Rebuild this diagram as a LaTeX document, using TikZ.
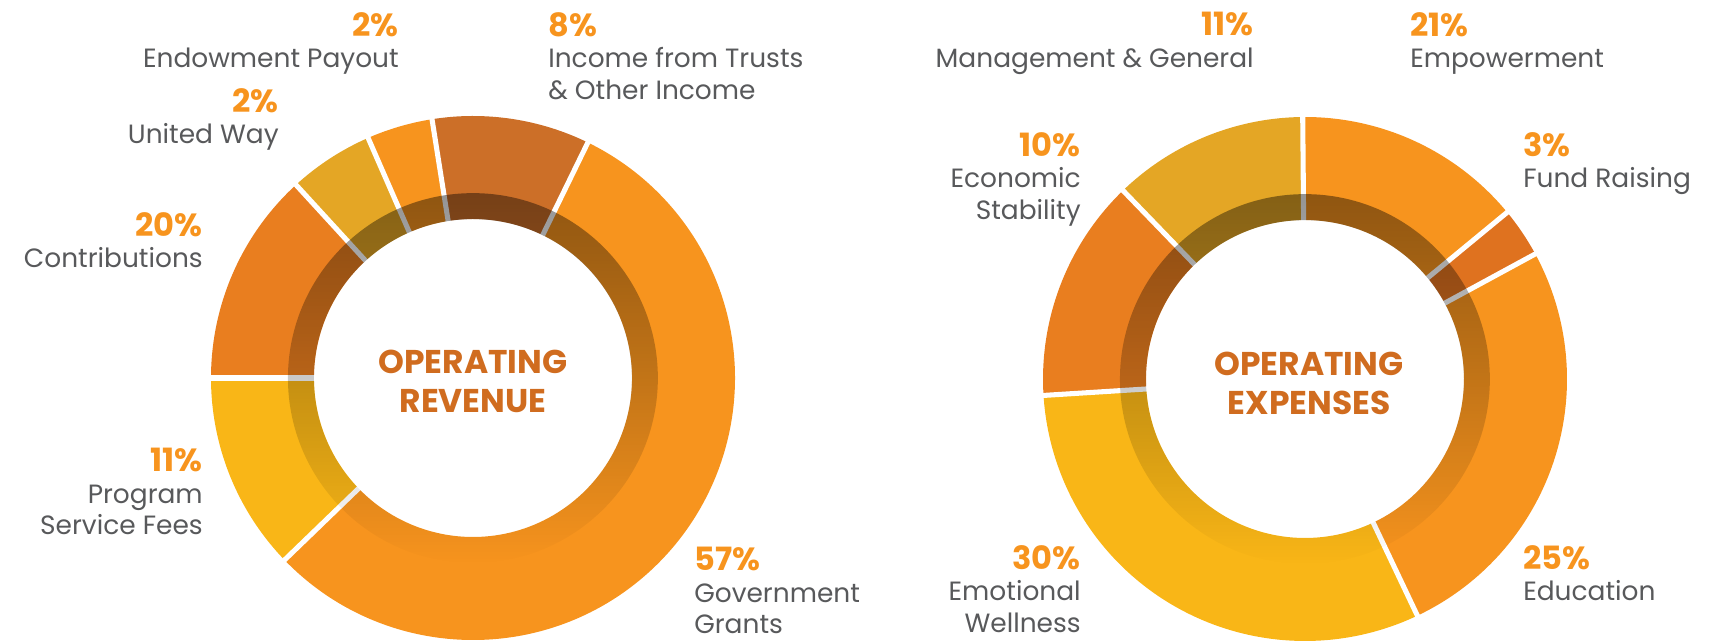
\documentclass[tikz,border=0pt]{standalone}
\usepackage{fontspec}
\setmainfont{Poppins}
\usetikzlibrary{fadings}

\definecolor{pctorange}{HTML}{F7941E}
\definecolor{labelgray}{HTML}{58595B}
\definecolor{titleorange}{HTML}{D06C1F}
\definecolor{segorange}{HTML}{F7941E}
\definecolor{segrust}{HTML}{CC6F28}
\definecolor{seggold}{HTML}{E4A625}
\definecolor{segdeep}{HTML}{E97E1F}
\definecolor{segyellow}{HTML}{F9B617}
\definecolor{segdark}{HTML}{DF721F}

\tikzfading[name=ringshade, top color=transparent!58, bottom color=transparent!100]

\newcommand{\pctnum}[1]{{\fontsize{22.8}{22.4}\selectfont\bfseries\color{pctorange}#1}}

\tikzset{
  leftlbl/.style={anchor=north east, align=right, inner sep=0pt, text=labelgray,
    font=\fontsize{18.8}{22.4}\selectfont},
  rightlbl/.style={anchor=north west, align=left, inner sep=0pt, text=labelgray,
    font=\fontsize{18.8}{22.4}\selectfont},
  titletext/.style={align=center, inner sep=0pt, text=titleorange,
    font=\fontsize{23.4}{27.7}\selectfont\bfseries},
  gapline/.style={white, line width=3.6pt},
}

\begin{document}
\begin{tikzpicture}[x=0.025cm, y=0.025cm]
	\useasboundingbox (0,0) rectangle (1722,643);
	% operating revenue
	\begin{scope}[shift={(473,265)}]
		\fill[segorange] (224:159) -- (224:262) arc[start angle=224, end angle=424, radius=262] -- (424:159) arc[start angle=424, end angle=224, radius=159] -- cycle;
		\fill[segrust] (64:159) -- (64:262) arc[start angle=64, end angle=99, radius=262] -- (99:159) arc[start angle=99, end angle=64, radius=159] -- cycle;
		\fill[segorange] (99:159) -- (99:262) arc[start angle=99, end angle=113.6, radius=262] -- (113.6:159) arc[start angle=113.6, end angle=99, radius=159] -- cycle;
		\fill[seggold] (113.6:159) -- (113.6:262) arc[start angle=113.6, end angle=132.5, radius=262] -- (132.5:159) arc[start angle=132.5, end angle=113.6, radius=159] -- cycle;
		\fill[segdeep] (132.5:159) -- (132.5:262) arc[start angle=132.5, end angle=180, radius=262] -- (180:159) arc[start angle=180, end angle=132.5, radius=159] -- cycle;
		\fill[segyellow] (180:159) -- (180:262) arc[start angle=180, end angle=224, radius=262] -- (224:159) arc[start angle=224, end angle=180, radius=159] -- cycle;
		\foreach \a in {64,99,113.6,132.5,180,224}
			\draw[gapline] (\a:158) -- (\a:265);
		\fill[black, path fading=ringshade, even odd rule] (0,0) circle[radius=185] (0,0) circle[radius=159];
	\end{scope}
	% operating expenses
	\begin{scope}[shift={(1305,264)}]
		\fill[seggold] (90.5:159) -- (90.5:262) arc[start angle=90.5, end angle=134, radius=262] -- (134:159) arc[start angle=134, end angle=90.5, radius=159] -- cycle;
		\fill[segdeep] (134:159) -- (134:262) arc[start angle=134, end angle=183.6, radius=262] -- (183.6:159) arc[start angle=183.6, end angle=134, radius=159] -- cycle;
		\fill[segyellow] (183.6:159) -- (183.6:262) arc[start angle=183.6, end angle=295.4, radius=262] -- (295.4:159) arc[start angle=295.4, end angle=183.6, radius=159] -- cycle;
		\fill[segorange] (295.4:159) -- (295.4:262) arc[start angle=295.4, end angle=388.5, radius=262] -- (388.5:159) arc[start angle=388.5, end angle=295.4, radius=159] -- cycle;
		\fill[segdark] (28.5:159) -- (28.5:262) arc[start angle=28.5, end angle=39.5, radius=262] -- (39.5:159) arc[start angle=39.5, end angle=28.5, radius=159] -- cycle;
		\fill[segorange] (39.5:159) -- (39.5:262) arc[start angle=39.5, end angle=90.5, radius=262] -- (90.5:159) arc[start angle=90.5, end angle=39.5, radius=159] -- cycle;
		\foreach \a in {28.5,39.5,90.5,134,183.6,295.4}
			\draw[gapline] (\a:158) -- (\a:265);
		\fill[black, path fading=ringshade, even odd rule] (0,0) circle[radius=185] (0,0) circle[radius=159];
	\end{scope}
	% titles
	\node[titletext] (revTitle) at (473,262) {OPERATING\\REVENUE};
	\node[titletext] (expTitle) at (1309,260) {OPERATING\\EXPENSES};
	% revenue labels
	\node[leftlbl] (revEndow) at (399,631) {\pctnum{2\%}\\Endowment Payout};
	\node[leftlbl] (revUway) at (279,555) {\pctnum{2\%}\\United Way};
	\node[leftlbl] (revContrib) at (203,431) {\pctnum{20\%}\\Contributions};
	\node[leftlbl] (revFees) at (203,195) {\pctnum{11\%}\\Program\\Service Fees};
	\node[rightlbl] (revTrust) at (548,631) {\pctnum{8\%}\\Income from Trusts\\\& Other Income};
	\node[rightlbl] (revGrants) at (694,96) {\pctnum{57\%}\\Government\\Grants};
	% expense labels
	\node[leftlbl] (expMgmt) at (1254,631) {\pctnum{11\%}\\Management \& General};
	\node[leftlbl] (expEcon) at (1081,511) {\pctnum{10\%}\\Economic\\Stability};
	\node[leftlbl] (expWell) at (1081,98) {\pctnum{30\%}\\Emotional\\Wellness};
	\node[rightlbl] (expEmpow) at (1410,631) {\pctnum{21\%}\\Empowerment};
	\node[rightlbl] (expFund) at (1523,511) {\pctnum{3\%}\\Fund Raising};
	\node[rightlbl] (expEdu) at (1523,98) {\pctnum{25\%}\\Education};
\end{tikzpicture}
\end{document}
